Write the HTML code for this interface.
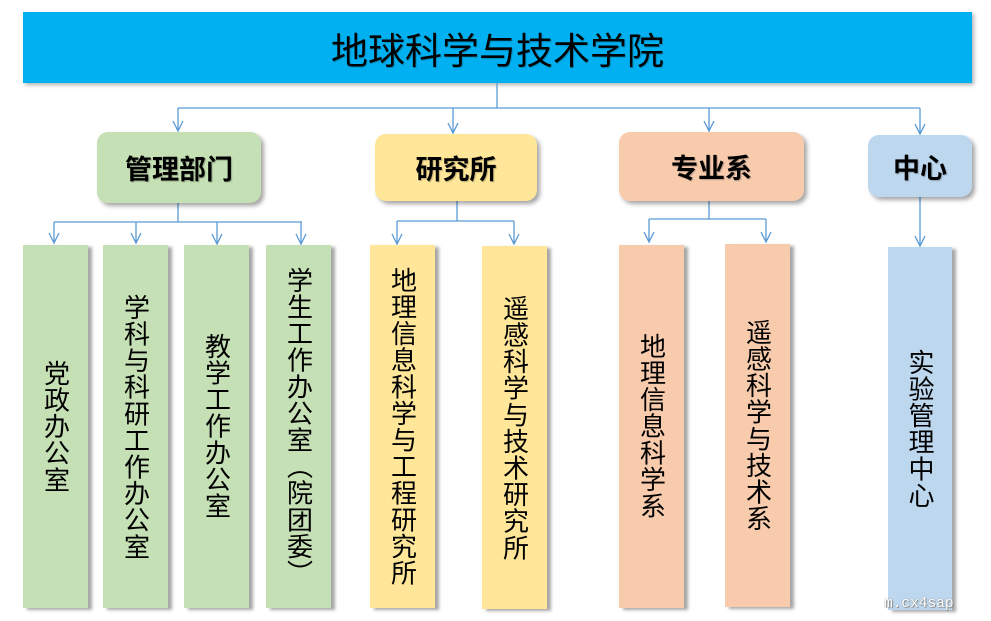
<!DOCTYPE html>
<html><head><meta charset="utf-8">
<style>
html,body{margin:0;padding:0;background:#fff;}
body{width:991px;height:621px;position:relative;overflow:hidden;font-family:"Liberation Sans","Noto Sans CJK SC",sans-serif;}
.b{position:absolute;box-sizing:border-box;}
.title{left:23px;top:12px;width:949px;height:71px;background:#00b0f0;box-shadow:2px 2px 4px rgba(0,0,0,0.3);display:flex;align-items:center;justify-content:center;font-size:37px;color:#000;text-shadow:1px 1px 1px rgba(0,0,0,0.2);}
.l2{border-radius:11px;display:flex;align-items:center;justify-content:center;font-size:27px;font-weight:bold;color:#000;box-shadow:3px 3px 4px rgba(0,0,0,0.35);text-shadow:1px 1px 1px rgba(0,0,0,0.25);}
.l3{top:245px;height:363px;width:65px;display:flex;align-items:center;justify-content:center;box-shadow:4px 2px 3px rgba(0,0,0,0.35);}
.v{writing-mode:vertical-rl;text-orientation:mixed;font-size:26px;letter-spacing:0.6px;line-height:1;color:#000;}
.g{background:#c5e0b4;}
.y{background:#ffe699;}
.p{background:#f8cbad;}
.u{background:#bdd7ee;}
svg{position:absolute;left:0;top:0;}
.wm{position:absolute;left:884px;top:596px;font-family:"Liberation Mono",monospace;font-size:14.5px;color:#fff;text-shadow:0 0 1px #777,1px 1px 1px #888;}
</style></head><body>
<div class="b title">地球科学与技术学院</div>

<svg width="991" height="621" viewBox="0 0 991 621">
<g fill="none" stroke="#5b9bd5" stroke-width="1.3">
<path d="M497 83 V108 M178 108 H920"/>
<path d="M178 108 V131 M173 121 L178 131 L183 121"/>
<path d="M453 108 V133 M448 123 L453 133 L458 123"/>
<path d="M709 108 V131 M704 121 L709 131 L714 121"/>
<path d="M920 108 V134 M915 124 L920 134 L925 124"/>
<path d="M178 203 V222 M54 222 H302"/>
<path d="M54 222 V243 M49 233 L54 243 L59 233"/>
<path d="M136 222 V243 M131 233 L136 243 L141 233"/>
<path d="M217 222 V244 M212 234 L217 244 L222 234"/>
<path d="M301 222 V244 M296 234 L301 244 L306 234"/>
<path d="M457 201 V221 M397 221 H514"/>
<path d="M397 221 V244 M392 234 L397 244 L402 234"/>
<path d="M514 221 V244 M509 234 L514 244 L519 234"/>
<path d="M709 199 V219 M649 219 H766"/>
<path d="M649 219 V242 M644 232 L649 242 L654 232"/>
<path d="M766 219 V242 M761 232 L766 242 L771 232"/>
<path d="M920 197 V246 M915 236 L920 246 L925 236"/>
</g>
</svg>

<div class="b l2 g" style="left:97px;top:132px;width:164px;height:71px;">管理部门</div>
<div class="b l2 y" style="left:375px;top:134px;width:162px;height:67px;">研究所</div>
<div class="b l2 p" style="left:619px;top:132px;width:185px;height:69px;">专业系</div>
<div class="b l2 u" style="left:868px;top:135px;width:104px;height:62px;">中心</div>

<div class="b l3 g" style="left:23px;"><span class="v">党政办公室</span></div>
<div class="b l3 g" style="left:103px;"><span class="v">学科与科研工作办公室</span></div>
<div class="b l3 g" style="left:184px;"><span class="v">教学工作办公室</span></div>
<div class="b l3 g" style="left:266px;"><span class="v">学生工作办公室（院团委）</span></div>
<div class="b l3 y" style="left:370px;"><span class="v">地理信息科学与工程研究所</span></div>
<div class="b l3 y" style="left:482px;top:246px;"><span class="v">遥感科学与技术研究所</span></div>
<div class="b l3 p" style="left:619px;"><span class="v">地理信息科学系</span></div>
<div class="b l3 p" style="left:725px;top:244px;"><span class="v">遥感科学与技术系</span></div>
<div class="b l3 u" style="left:888px;top:247px;width:64px;"><span class="v">实验管理中心</span></div>

<div class="wm">m.cx4sap</div>
</body></html>
